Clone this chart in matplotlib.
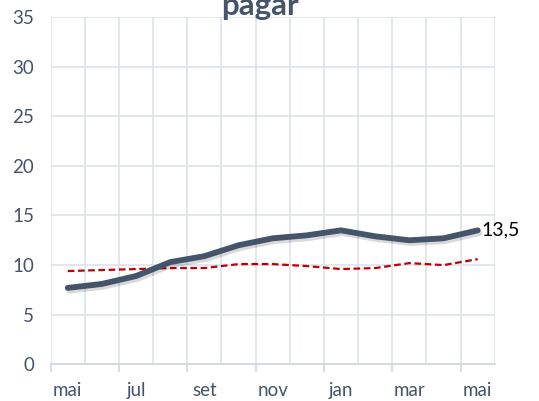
import numpy as np
import matplotlib.pyplot as plt
import matplotlib.patheffects as pe

# Dados (mai a mai, 13 meses)
meses = ['mai', 'jun', 'jul', 'ago', 'set', 'out', 'nov', 'dez', 'jan', 'fev', 'mar', 'abr', 'mai']
serie_principal = [7.7, 8.1, 8.9, 10.3, 10.9, 12.0, 12.7, 13.0, 13.5, 12.9, 12.5, 12.7, 13.5]
serie_referencia = [9.4, 9.5, 9.6, 9.7, 9.7, 10.1, 10.1, 9.9, 9.6, 9.7, 10.2, 10.0, 10.6]
rotulo_final = '13,5'

plt.rcParams['font.family'] = ['Lato', 'DejaVu Sans']

cor_texto = '#44546A'
cor_grade = '#DDE2EA'

fig = plt.figure(figsize=(5.39, 4.01), dpi=100)
ax = fig.add_axes([0.094, 0.0915, 0.824, 0.866])

x = np.arange(len(meses))
ax.plot(x, serie_referencia, color='#C00000', lw=1.6, ls=(0, (3, 1.6)), zorder=3)
ax.plot(x, serie_principal, color='#44546A', lw=4.2, solid_capstyle='round', zorder=4,
        path_effects=[pe.SimpleLineShadow(offset=(1.2, -2.0), alpha=0.15, shadow_color='black'),
                      pe.Normal()])

ax.annotate(rotulo_final, (x[-1], serie_principal[-1]), xytext=(3, 0), textcoords='offset points',
            va='center', ha='left', fontsize=14, color='black')

ax.set_xlim(-0.5, len(meses) - 0.5)
ax.set_ylim(0, 35)
ax.set_yticks(range(0, 36, 5))

# grade vertical nos limites das categorias
ax.set_xticks(np.arange(-0.5, len(meses), 1), minor=True)
ax.set_xticks(np.arange(-0.5, len(meses), 2), minor=False)
ax.set_xticklabels([])
for i in range(0, len(meses), 2):
    ax.text(i, -0.075, meses[i], transform=ax.get_xaxis_transform(), ha='center', va='center',
            fontsize=13.5, color=cor_texto)

ax.grid(True, which='both', axis='x', color=cor_grade, lw=1.2)
ax.grid(True, which='major', axis='y', color=cor_grade, lw=1.2)
ax.set_axisbelow(True)

for s in ['top', 'right', 'left']:
    ax.spines[s].set_visible(False)
ax.spines['bottom'].set_color('#D0D5DD')
ax.spines['bottom'].set_linewidth(1.2)

ax.tick_params(axis='x', which='major', length=6, color='#D0D5DD', width=1.2)
ax.tick_params(axis='x', which='minor', length=0)
ax.tick_params(axis='y', length=0, labelsize=13.5, labelcolor=cor_texto, pad=12)

fig.text(0.483, 0.962, 'pagar', ha='center', va='baseline', fontsize=22.5, fontweight='bold',
         color=cor_texto)

fig.savefig('out.png', dpi=100)
